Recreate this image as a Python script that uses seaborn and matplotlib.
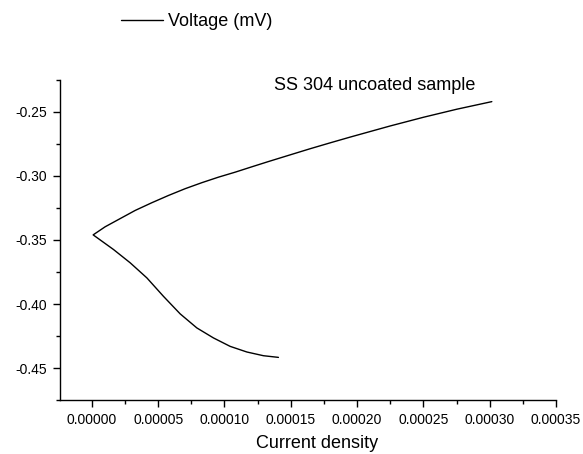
import numpy as np
import pandas as pd
import seaborn as sns
import matplotlib
matplotlib.use("Agg")
import matplotlib.pyplot as plt
from matplotlib.ticker import AutoMinorLocator, FormatStrFormatter

# cathodic branch (tail -> corrosion point), then anodic branch
current_density = [
    0.0001407, 0.0001294, 0.0001169, 0.0001043, 0.0000917, 0.0000792,
    0.0000666, 0.0000540, 0.0000415, 0.0000289, 0.0000163, 0.0000010,
    0.0000100, 0.0000201, 0.0000327, 0.0000452, 0.0000578, 0.0000704,
    0.0000830, 0.0000955, 0.0001081, 0.0001207, 0.0001332, 0.0001495,
    0.0001646, 0.0001797, 0.0001948, 0.0002250, 0.0002501, 0.0002753,
    0.0003016,
]
voltage = [
    -0.4417, -0.4404, -0.4375, -0.4331, -0.4265, -0.4187,
    -0.4077, -0.3940, -0.3796, -0.3678, -0.3574, -0.3460,
    -0.3397, -0.3340, -0.3269, -0.3209, -0.3152, -0.3099,
    -0.3052, -0.3009, -0.2970, -0.2928, -0.2887, -0.2835,
    -0.2787, -0.2741, -0.2696, -0.2609, -0.2541, -0.2478,
    -0.2419,
]
series_name = "Voltage (mV)"
sample_label = "SS 304 uncoated sample"

df = pd.DataFrame({"Current density": current_density, series_name: voltage})

sns.set_style("white", {"axes.spines.top": False, "axes.spines.right": False})
plt.rcParams.update({
    "font.family": ["Liberation Sans", "DejaVu Sans"],
    "axes.linewidth": 1.0,
    "axes.edgecolor": "black",
    "axes.labelcolor": "black",
    "text.color": "black",
    "xtick.color": "black",
    "ytick.color": "black",
    "xtick.direction": "out",
    "ytick.direction": "out",
})

fig = plt.figure(figsize=(5.83, 4.54), dpi=100)
ax = fig.add_axes([60 / 583, 54 / 454, 496 / 583, 320 / 454])

sns.lineplot(data=df, x="Current density", y=series_name, sort=False,
             estimator=None, color="black", linewidth=1.0, ax=ax,
             label=series_name, legend=False)

ax.set_xlim(-0.000024, 0.00035)
ax.set_ylim(-0.475, -0.225)
ax.set_xticks(np.arange(0, 0.000351, 0.00005))
ax.set_yticks([-0.45, -0.40, -0.35, -0.30, -0.25])
ax.xaxis.set_major_formatter(FormatStrFormatter("%.5f"))
ax.yaxis.set_major_formatter(FormatStrFormatter("%.2f"))
ax.xaxis.set_minor_locator(AutoMinorLocator(2))
ax.yaxis.set_minor_locator(AutoMinorLocator(2))
ax.tick_params(axis="both", which="major", length=5, width=1.0, labelsize=10, pad=4,
               bottom=True, left=True)
ax.tick_params(axis="both", which="minor", length=3, width=1.0, bottom=True, left=True)

ax.set_xlabel("Current density", fontsize=13)
ax.xaxis.set_label_coords((317.5 - 60) / 496, (400 - 435) / 320)
ax.set_ylabel("")

ax.text(0.634, 0.982, sample_label, transform=ax.transAxes, fontsize=13,
        ha="center", va="center")

fig.legend(loc="center left", bbox_to_anchor=(121 / 583, 1 - 22 / 454), frameon=False,
           fontsize=13, handlelength=2.3, handletextpad=0.3, borderpad=0, borderaxespad=0)

fig.savefig("out.png", dpi=100)
